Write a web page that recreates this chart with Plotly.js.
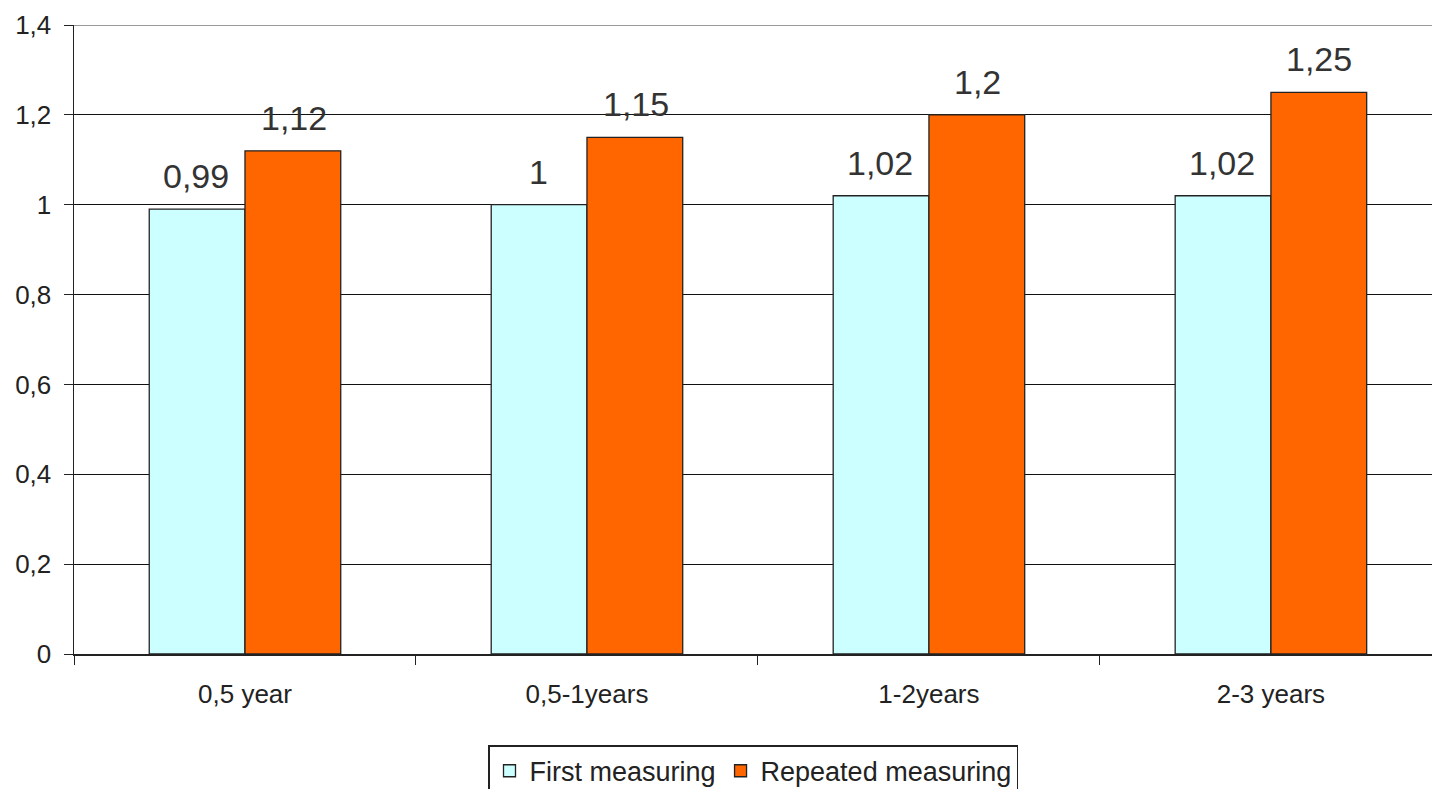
<!DOCTYPE html>
<html>
<head>
<meta charset="utf-8">
<script src="https://cdn.plot.ly/plotly-3.0.1.min.js"></script>
<style>html,body{margin:0;padding:0;background:#fff;}#chart{width:1432px;height:789px;}</style>
</head>
<body>
<div id="chart"></div>
<script>
const categories = ["0,5 year", "0,5-1years", "1-2years", "2-3 years"];
const seriesNames = ["First measuring", "Repeated measuring"];
const firstMeasuring = [0.99, 1.00, 1.02, 1.02];
const repeatedMeasuring = [1.12, 1.15, 1.20, 1.25];
const yTickValues = [0, 0.2, 0.4, 0.6, 0.8, 1, 1.2, 1.4];
const yTickLabels = ["0", "0,2", "0,4", "0,6", "0,8", "1", "1,2", "1,4"];

const FONT = "Liberation Sans, Arial, sans-serif";
const fmt = v => String(v).replace('.', ',');

const traces = [
  {
    type: "bar", name: seriesNames[0], x: categories, y: firstMeasuring,
    marker: {color: "#ccffff", line: {color: "#222", width: 1.3}}
  },
  {
    type: "bar", name: seriesNames[1], x: categories, y: repeatedMeasuring,
    marker: {color: "#ff6600", line: {color: "#222", width: 1.3}}
  }
];

// value labels above bars (grouped bars: each bar is 0.28 of a category wide)
const annotations = [];
[firstMeasuring, repeatedMeasuring].forEach((vals, s) => {
  vals.forEach((v, i) => {
    annotations.push({
      xref: "x", yref: "y", x: i + (s === 0 ? -0.142 : 0.142), y: v,
      text: fmt(v), showarrow: false, yanchor: "bottom", yshift: 12,
      font: {family: FONT, size: 34, color: "#333"}
    });
  });
});

const layout = {
  width: 1432, height: 789,
  margin: {l: 74, r: 0, t: 25, b: 135, autoexpand: false},
  paper_bgcolor: "#fff", plot_bgcolor: "#fff",
  separators: ", ",
  font: {family: FONT, color: "#222"},
  barmode: "group", bargap: 0.44, bargroupgap: 0,
  showlegend: true,
  legend: {
    orientation: "h", x: 0.5, xanchor: "center", y: -0.145, yanchor: "top",
    bordercolor: "#222", borderwidth: 1.5, bgcolor: "#fff",
    font: {family: FONT, size: 27, color: "#222"}, traceorder: "normal",
    itemwidth: 30
  },
  xaxis: {
    type: "category", range: [-0.5, 3.471],
    showline: true, linecolor: "#222", linewidth: 1.5,
    ticks: "outside", tickson: "boundaries", ticklen: 9, tickcolor: "#222",
    ticklabelstandoff: 16, automargin: false,
    tickfont: {family: FONT, size: 26, color: "#222"}, showgrid: false
  },
  yaxis: {
    range: [0, 1.4], tickvals: yTickValues, ticktext: yTickLabels,
    showline: true, linecolor: "#222", linewidth: 1.5,
    ticks: "outside", ticklen: 9, tickcolor: "#222",
    ticklabelstandoff: 7, automargin: false,
    showgrid: true, gridcolor: "#111", gridwidth: 1,
    tickfont: {family: FONT, size: 26, color: "#222"}, zeroline: false
  },
  annotations: annotations,
  shapes: [
    {type: "line", xref: "paper", yref: "y", x0: 0, x1: 1, y0: 1.4, y1: 1.4, line: {color: "#999", width: 2}}
  ]
};

Plotly.newPlot("chart", traces, layout, {displayModeBar: false, staticPlot: true});
</script>
</body>
</html>
